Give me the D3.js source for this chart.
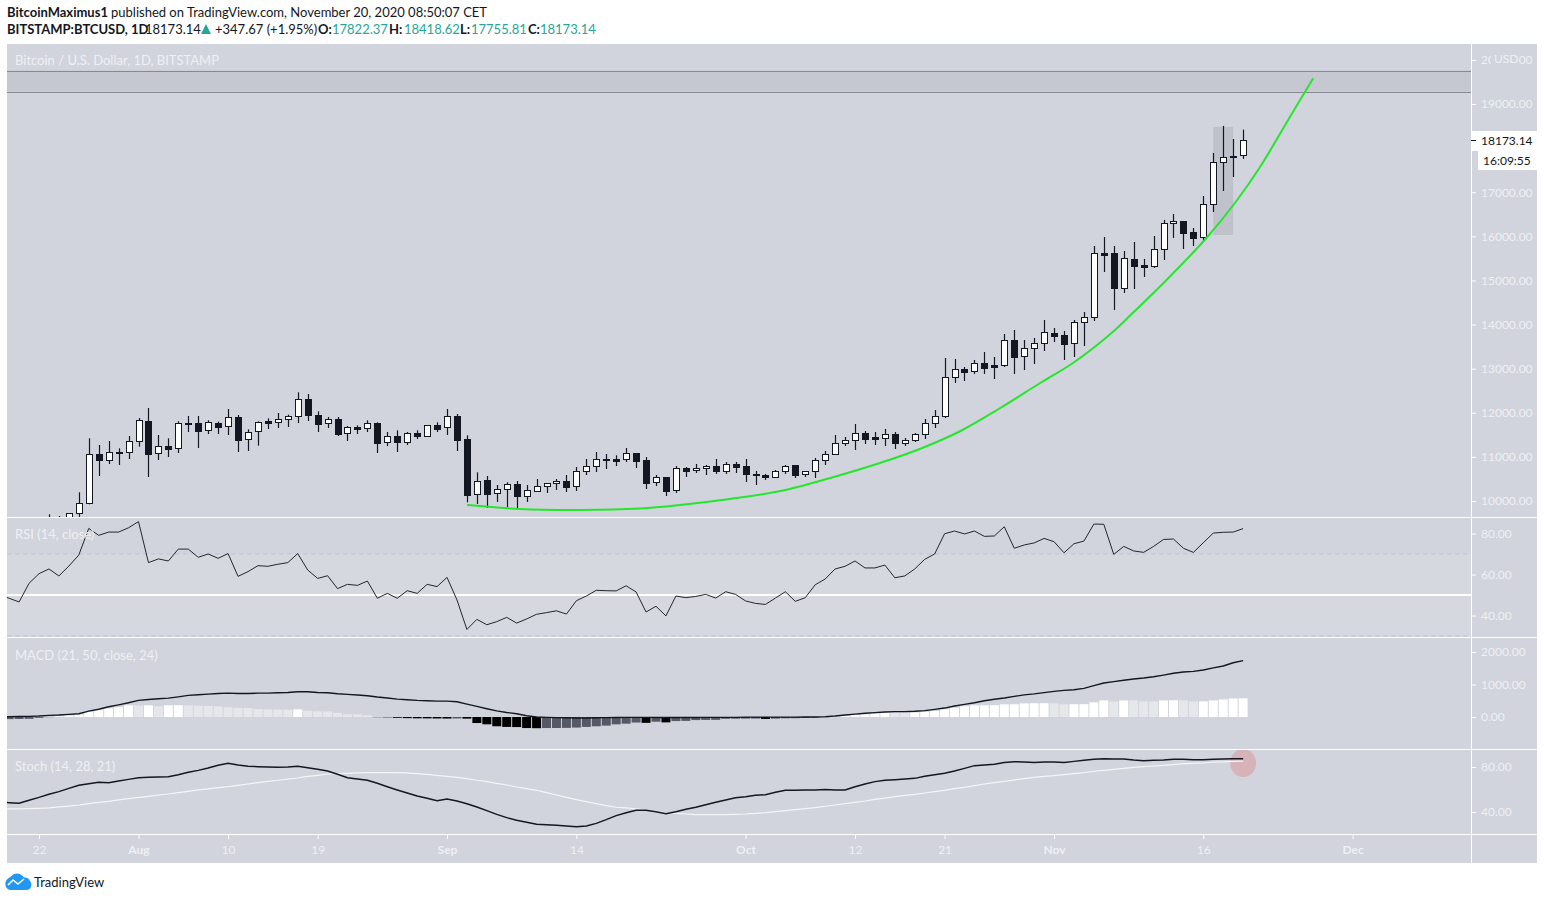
<!DOCTYPE html>
<html>
<head>
<meta charset="utf-8">
<title>BTCUSD 1D</title>
<script src="https://cdn.jsdelivr.net/npm/d3@7/dist/d3.min.js"></script>
<style>
  html, body { margin: 0; padding: 0; background: #fff; }
  svg { display: block; }
  text { font-family: Lato, "Open Sans", sans-serif; }
</style>
</head>
<body>
<script>
// daily candles, first one is 23 Jul 2020, last one 20 Nov 2020
const candleStart = Date.UTC(2020, 6, 23);
const opens = [
  9540,9540,9570,9720,9947,11066,10914,11111,11096,11345,
  11814,11073,11247,11186,11768,11768,11594,11768,11685,11904,
  11390,11572,11806,11776,11851,11912,12312,11950,11753,11859,
  11526,11678,11640,11768,11322,11466,11322,11534,11458,11715,
  11662,11927,11406,10144,10476,10167,10257,10386,10114,10212,
  10325,10393,10454,10325,10665,10779,10953,10953,10937,11089,
  10930,10416,10545,10235,10749,10688,10733,10794,10665,10839,
  10794,10605,10590,10529,10665,10817,10597,10665,10915,11051,
  11300,11368,11542,11451,11413,11519,11315,11368,11504,11754,
  11913,12797,12993,12933,13129,13084,13069,13650,13273,13454,
  13567,13809,13764,13567,14043,14157,15623,15623,14814,15487,
  15351,15313,15698,16288,16348,16099,15970,16718,17670,17791,
  17822.37];
const highs = [
  9698,9660,9720,10197,11421,11270,11360,11194,11474,11882,
  12108,11496,11421,11806,11927,11927,11829,11799,12086,11950,
  11625,11806,11874,11995,11957,12463,12426,12033,11904,11904,
  11700,11715,11829,11783,11564,11602,11564,11602,11715,11783,
  12086,11972,11489,10650,10567,10363,10424,10454,10363,10499,
  10401,10499,10590,10771,10953,11111,11066,11036,11202,11089,
  10998,10590,10545,10794,10771,10839,10817,10953,10885,10885,
  10953,10681,10613,10703,10817,10817,10673,10975,11134,11497,
  11451,11746,11587,11565,11633,11565,11429,11542,11859,12063,
  13242,13220,13038,13197,13378,13265,13786,13877,13650,13696,
  14104,13923,13854,14104,14285,15781,15985,15781,15668,15872,
  15487,16008,16371,16507,16348,16189,16915,17890,18502,18207,
  18418.62];
const lows = [
  9480,9470,9500,9640,9925,10567,10839,10816,10952,11232,
  10544,10930,10998,11088,11564,11202,11519,11519,11496,11111,
  11134,11255,11632,11655,11678,11768,11814,11564,11655,11474,
  11360,11519,11564,11088,11247,11111,11270,11406,11451,11564,
  11496,11134,9970,9932,9842,9978,9865,9834,9978,10205,
  10182,10250,10205,10227,10590,10658,10726,10794,10885,10749,
  10273,10341,10114,10182,10545,10635,10590,10613,10613,10635,
  10431,10363,10477,10522,10613,10522,10545,10522,10817,11051,
  11247,11157,11293,11270,11247,11179,11247,11338,11406,11655,
  11882,12676,12721,12880,12880,12766,13038,12880,12970,13107,
  13401,13605,13197,13265,13514,14081,15192,14331,14716,14807,
  15079,15283,15464,15963,15713,15781,15880,16552,17028,17345,
  17755.81];
const closes = [
  9620,9600,9720,9947,11058,10930,11103,11096,11353,11829,
  11073,11239,11179,11761,11753,11587,11783,11678,11897,11383,
  11557,11783,11768,11851,11919,12305,11957,11746,11851,11519,
  11670,11632,11761,11322,11466,11322,11534,11458,11715,11632,
  11919,11383,10136,10446,10159,10265,10378,10114,10242,10333,
  10401,10446,10318,10673,10786,10945,10937,10907,11081,10907,
  10409,10537,10227,10741,10681,10741,10786,10681,10832,10771,
  10613,10575,10545,10673,10786,10590,10673,10922,11058,11308,
  11376,11534,11406,11413,11512,11315,11376,11512,11761,11920,
  12804,12986,12925,13122,13016,13046,13643,13265,13462,13575,
  13824,13741,13560,14051,14164,15615,15577,14829,15502,15328,
  15305,15706,16295,16340,16076,15963,16726,17678,17791,17825,
  18173.14];

// indicators run from 18 Jul 2020, one value per day
const indicatorStart = Date.UTC(2020, 6, 18);
const rsiValues = [
  50.0,48.4,46.6,55.7,60.4,62.7,59.3,64.1,69.5,82.5,
  79.1,80.7,80.7,82.8,85.8,65.8,67.6,66.6,72.4,72.4,
  68.4,70.0,67.9,70.2,59.1,61.4,64.3,64.0,65.0,65.8,
  70.2,62.2,58.1,59.4,53.1,55.2,54.7,56.8,48.4,50.8,
  48.4,52.1,50.8,55.2,54.1,58.6,47.6,33.2,38.1,35.5,
  37.0,39.1,36.3,38.3,40.6,41.4,42.3,40.7,47.2,49.5,
  52.3,52.1,52.0,54.5,51.5,41.7,44.5,39.8,49.5,48.7,
  49.3,50.3,48.5,51.6,50.3,47.1,45.9,45.4,48.5,51.6,
  46.9,48.7,55.0,57.8,62.7,64.0,66.6,63.2,63.2,64.6,
  58.4,59.3,62.7,67.4,70.0,79.9,81.2,79.8,81.2,78.6,
  78.8,83.3,72.8,74.4,75.4,77.6,76.0,70.6,75.0,76.3,
  84.6,84.5,69.8,73.7,71.5,70.8,73.7,77.1,77.3,72.8,
  70.8,75.5,80.2,80.6,80.7,82.4];
const macdValues = [
  0,10,15,20,30,50,60,80,100,180,
  240,315,375,440,510,540,560,580,620,665,
  685,705,725,735,725,725,735,735,745,755,
  775,775,755,745,715,695,675,655,615,585,
  550,530,510,500,490,490,470,395,325,255,
  190,140,100,40,0,-10,-20,-25,-30,-30,
  -25,-20,-15,-10,-10,-10,-15,-15,-15,-15,
  -15,-10,-10,-10,-10,-5,-5,-5,-5,-5,
  -5,0,0,10,30,60,90,115,135,155,
  165,165,175,195,235,275,340,390,440,500,
  545,585,635,680,710,750,790,820,840,880,
  965,1045,1090,1130,1170,1200,1240,1290,1345,1385,
  1405,1445,1510,1570,1670,1735];
const histValues = [
  -70,-65,-60,-55,-25,-5,20,45,80,170,
  235,265,300,360,355,358,330,360,362,358,
  350,340,330,300,280,275,245,235,230,225,
  235,195,175,170,125,85,80,50,-5,-10,
  -25,-35,-40,-42,-45,-48,-45,-50,-185,-225,
  -285,-305,-310,-340,-345,-340,-338,-335,-325,-305,
  -285,-265,-225,-205,-170,-180,-145,-165,-125,-120,
  -95,-90,-88,-55,-52,-50,-48,-60,-50,-40,
  -38,-30,-20,-10,10,40,60,80,110,140,
  138,135,140,160,185,235,285,330,358,360,
  362,390,392,420,422,424,418,390,392,394,
  450,510,480,510,508,480,478,510,512,508,
  480,482,510,540,570,575];
const stochK = [
  48.5,48.3,47.7,50.4,53.0,55.7,58.1,61.0,63.7,65.2,
  66.4,66.1,67.6,69.0,70.5,70.8,71.1,71.4,73.2,75.3,
  77.0,79.1,81.5,83.3,81.8,80.6,80.3,80.0,79.7,80.0,
  80.6,79.4,77.9,76.4,73.5,70.5,69.3,68.2,65.5,62.5,
  59.6,56.9,54.2,52.2,50.1,51.6,49.8,47.4,44.5,41.2,
  37.9,35.0,32.6,30.8,29.1,28.7,28.2,27.6,27.0,27.6,
  29.9,33.2,36.8,39.4,41.5,41.5,40.3,38.5,40.3,42.4,
  44.2,46.5,48.6,50.7,52.7,53.6,54.8,55.4,57.5,59.3,
  59.4,59.6,59.6,59.9,59.6,59.6,62.5,64.9,67.0,68.2,
  68.7,69.3,69.9,71.7,73.2,74.4,76.4,78.8,81.2,81.8,
  82.4,83.9,84.7,84.4,84.1,84.4,84.4,84.1,85.0,85.9,
  86.8,87.4,87.1,87.1,86.2,85.6,85.9,86.2,86.8,86.8,
  86.5,86.5,86.8,87.1,87.4,87.4];
const stochD = [
  42.7,42.7,42.7,43.0,43.3,43.6,44.5,45.3,46.2,47.4,
  48.6,49.5,50.7,51.9,53.0,53.9,55.1,56.0,57.2,58.4,
  59.6,60.5,61.6,62.5,63.7,64.9,66.1,67.3,68.2,69.3,
  70.2,71.7,72.6,73.8,74.1,74.4,74.7,75.0,75.0,75.0,
  75.0,74.7,74.1,73.5,72.6,71.7,70.8,69.6,68.2,67.0,
  65.5,64.0,62.2,60.7,59.3,57.2,55.1,53.0,51.0,49.2,
  47.4,45.6,44.2,43.6,42.7,41.8,40.9,39.1,38.8,38.2,
  37.6,37.6,37.6,37.6,37.9,38.2,38.8,39.4,40.3,41.2,
  42.1,43.0,43.9,45.1,46.2,47.4,48.6,49.8,51.3,52.4,
  53.6,54.8,55.7,56.9,58.1,59.3,60.7,61.9,63.4,64.9,
  66.1,67.3,68.5,69.6,70.8,71.7,72.3,73.2,74.1,75.0,
  76.2,77.0,77.9,78.8,79.7,80.3,80.9,81.5,82.1,83.0,
  83.3,83.6,84.2,84.5,85.0,85.3];

// green hand drawn arc: days before the last candle and price
const arcDaysAgo = [77.9,76.7,72.7,66.6,60.6,56.6,51.6,46.5,41.5,36.5,32.5,28.4,24.4,20.4,17.1,13.1,11.1,8.0,3.6,0.6,-1.7,-5,-7];
const arcPrices = [9909,9887,9819,9796,9830,9909,10045,10227,10521,10861,11179,11587,12108,12675,13128,13831,14262,14942,15985,16824,17572,18819,19567];
const resistanceBand = [19283, 19759];

const priceTicks = [20000,19000,18000,17000,16000,15000,14000,13000,12000,11000,10000];
const rsiTicks = [80,60,40];
const macdTicks = [2000,1000,0];
const stochTicks = [80,40];
const timeTicks = [
  [Date.UTC(2020,6,22),"22"],[Date.UTC(2020,7,1),"Aug"],[Date.UTC(2020,7,10),"10"],
  [Date.UTC(2020,7,19),"19"],[Date.UTC(2020,8,1),"Sep"],[Date.UTC(2020,8,14),"14"],
  [Date.UTC(2020,9,1),"Oct"],[Date.UTC(2020,9,12),"12"],[Date.UTC(2020,9,21),"21"],
  [Date.UTC(2020,10,1),"Nov"],[Date.UTC(2020,10,16),"16"],[Date.UTC(2020,11,1),"Dec"]
];
const DAY = 86400000;

const bg = "#d1d4dc", ink = "#131722", pale = "#eef0f4", teal = "#26a69a";

// pane layout
const left = 7, axisX = 1471, right = 1537;
const mainTop = 44, mainBottom = 517, rsiBottom = 637, macdBottom = 749, stochBottom = 834, chartBottom = 863;

const svg = d3.select("body").append("svg")
  .attr("width", 1544)
  .attr("height", 900);

const defs = svg.append("defs");
const addClip = (id, top, bottom) => defs.append("clipPath").attr("id", id)
  .append("rect").attr("x", left).attr("y", top).attr("width", axisX - left).attr("height", bottom - top);
addClip("clip-main", mainTop, mainBottom);
addClip("clip-rsi", mainBottom, rsiBottom);
addClip("clip-macd", rsiBottom, macdBottom);
addClip("clip-stoch", macdBottom, stochBottom);

svg.append("rect").attr("x", left).attr("y", mainTop)
  .attr("width", right - left).attr("height", chartBottom - mainTop).attr("fill", bg);

// scales
const x = d3.scaleUtc()
  .domain([Date.UTC(2020,6,22), Date.UTC(2020,11,1)])
  .range([39, 1352.6]);
const yPrice = d3.scaleLinear().domain([10000, 19000]).range([501, 104]);
const yRsi = d3.scaleLinear().domain([40, 80]).range([615.5, 533.5]);
const yMacd = d3.scaleLinear().domain([0, 2000]).range([717, 652]);
const yStoch = d3.scaleLinear().domain([40, 80]).range([812, 767]);

const candleDate = i => candleStart + i * DAY;
const indicatorDate = i => indicatorStart + i * DAY;
const crisp = v => Math.round(v) + 0.5;

// main pane
const main = svg.append("g").attr("clip-path", "url(#clip-main)");

main.append("rect")
  .attr("x", left).attr("width", axisX - left)
  .attr("y", yPrice(resistanceBand[1]))
  .attr("height", yPrice(resistanceBand[0]) - yPrice(resistanceBand[1]))
  .attr("fill", "#c5c8d1");
main.selectAll(".band-edge")
  .data(resistanceBand)
  .join("line")
    .attr("x1", left).attr("x2", axisX)
    .attr("y1", d => crisp(yPrice(d))).attr("y2", d => crisp(yPrice(d)))
    .attr("stroke", "#878a93");

// grey measure box behind the last candles
main.append("rect")
  .attr("x", x(candleDate(117))).attr("width", x(candleDate(119)) - x(candleDate(117)))
  .attr("y", yPrice(18480)).attr("height", yPrice(16030) - yPrice(18480))
  .attr("fill", "#bfc2cb");

const candles = main.selectAll(".candle")
  .data(d3.range(opens.length))
  .join("g")
    .attr("class", "candle");
candles.append("line")
  .attr("x1", i => crisp(x(candleDate(i)))).attr("x2", i => crisp(x(candleDate(i))))
  .attr("y1", i => yPrice(highs[i])).attr("y2", i => yPrice(lows[i]))
  .attr("stroke", ink).attr("stroke-width", 1.2);
candles.append("rect")
  .attr("x", i => Math.round(x(candleDate(i))) - 2.5)
  .attr("width", 6)
  .attr("y", i => Math.round(yPrice(Math.max(opens[i], closes[i]))) + 0.5)
  .attr("height", i => Math.max(1, Math.round(Math.abs(yPrice(opens[i]) - yPrice(closes[i])))))
  .attr("fill", i => closes[i] >= opens[i] ? "#fff" : ink)
  .attr("stroke", ink);

main.append("path")
  .attr("d", d3.line()
    .x((d, i) => x(candleDate(120 - d)))
    .y((d, i) => yPrice(arcPrices[i]))
    .curve(d3.curveCatmullRom.alpha(0.5))(arcDaysAgo))
  .attr("fill", "none")
  .attr("stroke", "#27e52f")
  .attr("stroke-width", 2)
  .attr("stroke-linecap", "round");

// RSI pane
const rsi = svg.append("g").attr("clip-path", "url(#clip-rsi)");
rsi.append("rect")
  .attr("x", left).attr("width", axisX - left)
  .attr("y", yRsi(70)).attr("height", yRsi(30) - yRsi(70))
  .attr("fill", "#fff").attr("fill-opacity", 0.1);
rsi.selectAll(".rsi-level")
  .data([70, 30])
  .join("line")
    .attr("x1", left).attr("x2", axisX)
    .attr("y1", d => yRsi(d)).attr("y2", d => yRsi(d))
    .attr("stroke", "#c2c3c5").attr("stroke-dasharray", "4 4");
rsi.append("line")
  .attr("x1", left).attr("x2", axisX)
  .attr("y1", yRsi(50)).attr("y2", yRsi(50))
  .attr("stroke", "#fff").attr("stroke-width", 2);
rsi.append("path")
  .attr("d", d3.line().x((d, i) => x(indicatorDate(i))).y(d => yRsi(d))(rsiValues))
  .attr("fill", "none").attr("stroke", "#23262e").attr("stroke-width", 1);

// MACD pane
const macd = svg.append("g").attr("clip-path", "url(#clip-macd)");
macd.selectAll("rect")
  .data(histValues)
  .join("rect")
    .attr("x", (d, i) => x(indicatorDate(i)) - 4.5)
    .attr("width", 9)
    .attr("y", d => Math.min(yMacd(d), yMacd(0)))
    .attr("height", d => Math.abs(yMacd(d) - yMacd(0)))
    .attr("fill", (d, i) => {
      const prev = i ? histValues[i - 1] : d;
      if (d >= 0) return d >= prev ? "#ffffff" : "#e6e7eb";
      return d < prev ? "#000000" : "#555865";
    });
macd.append("path")
  .attr("d", d3.line().x((d, i) => x(indicatorDate(i))).y(d => yMacd(d))(macdValues))
  .attr("fill", "none").attr("stroke", ink).attr("stroke-width", 1.4);

// Stoch pane
const stoch = svg.append("g").attr("clip-path", "url(#clip-stoch)");
stoch.append("ellipse")
  .attr("cx", x(candleDate(120))).attr("cy", yStoch(83.5))
  .attr("rx", 13).attr("ry", 14)
  .attr("fill", "#d6b2b9");
stoch.append("path")
  .attr("d", d3.line().x((d, i) => x(indicatorDate(i))).y(d => yStoch(d))(stochD))
  .attr("fill", "none").attr("stroke", "#f4f5f7").attr("stroke-width", 1.2);
stoch.append("path")
  .attr("d", d3.line().x((d, i) => x(indicatorDate(i))).y(d => yStoch(d))(stochK))
  .attr("fill", "none").attr("stroke", ink).attr("stroke-width", 1.5);

// separators
svg.selectAll(".separator")
  .data([mainBottom, rsiBottom, macdBottom, stochBottom])
  .join("line")
    .attr("x1", left).attr("x2", right)
    .attr("y1", d => d + 0.5).attr("y2", d => d + 0.5)
    .attr("stroke", "#fff");
svg.append("line")
  .attr("x1", axisX + 0.5).attr("x2", axisX + 0.5)
  .attr("y1", mainTop).attr("y2", chartBottom)
  .attr("stroke", "#fff");

// axes
const styleAxis = g => {
  g.select(".domain").remove();
  g.selectAll("line").attr("stroke", "#fff");
  g.selectAll("text")
    .attr("fill", pale)
    .style("font-size", "12px")
    .style("font-family", "Lato, sans-serif");
};
const addRightAxis = (scale, ticks, fmt) => svg.append("g")
  .attr("transform", `translate(${axisX},0)`)
  .call(d3.axisRight(scale).tickValues(ticks).tickSize(5).tickPadding(5).tickFormat(fmt))
  .call(styleAxis);
addRightAxis(yPrice, priceTicks.filter(d => d !== 18000), d3.format(".2f"));
addRightAxis(yRsi, rsiTicks, d3.format(".2f"));
addRightAxis(yMacd, macdTicks, d3.format(".2f"));
addRightAxis(yStoch, stochTicks, d3.format(".2f"));

svg.append("g")
  .attr("transform", `translate(0,${stochBottom})`)
  .call(d3.axisBottom(x)
    .tickValues(timeTicks.map(d => d[0]))
    .tickSize(5).tickPadding(6)
    .tickFormat((d, i) => timeTicks[i][1]))
  .call(styleAxis)
  .call(g => g.selectAll("text")
    .style("font-weight", (d, i) => isNaN(+timeTicks[i][1]) ? "700" : "400"));

// USD tag sits on top of the 20000 label
svg.append("rect").attr("x", 1491).attr("y", 50).attr("width", 27).attr("height", 20).attr("fill", bg);
svg.append("text").attr("x", 1494).attr("y", 63).attr("fill", pale)
  .style("font-size", "12px").text("USD");

// last price and countdown tags
svg.append("rect").attr("x", 1472).attr("y", 131).attr("width", 65).attr("height", 20).attr("fill", "#fff");
svg.append("line")
  .attr("x1", axisX).attr("x2", axisX + 5)
  .attr("y1", crisp(yPrice(closes[closes.length - 1]))).attr("y2", crisp(yPrice(closes[closes.length - 1])))
  .attr("stroke", ink);
svg.append("text").attr("x", 1481).attr("y", 145).attr("fill", ink)
  .style("font-size", "12px").text(d3.format(".2f")(closes[closes.length - 1]));
svg.append("rect").attr("x", 1478).attr("y", 151).attr("width", 59).attr("height", 19).attr("fill", "#fff");
svg.append("text").attr("x", 1483).attr("y", 165).attr("fill", ink)
  .style("font-size", "12px").text("16:09:55");

// pane titles
const paneTitle = (label, y) => svg.append("text")
  .attr("x", 15).attr("y", y).attr("fill", pale)
  .style("font-size", "13px").text(label);
paneTitle("Bitcoin / U.S. Dollar, 1D, BITSTAMP", 65);
paneTitle("RSI (14, close)", 539);
paneTitle("MACD (21, 50, close, 24)", 660);
paneTitle("Stoch (14, 28, 21)", 771);

// header lines
const header = (str, xPos, y, color, weight) => svg.append("text")
  .attr("x", xPos).attr("y", y).attr("fill", color)
  .style("font-size", "13px").style("font-weight", weight || 400).text(str);
header("BitcoinMaximus1", 7, 17, ink, 700);
header("published on TradingView.com, November 20, 2020 08:50:07 CET", 111, 17, ink);
header("BITSTAMP:BTCUSD, 1D", 7, 34, ink, 700);
header("18173.14", 145, 34, ink);
svg.append("path").attr("d", "M201,34 L206,24 L211,34 Z").attr("fill", teal);
header("+347.67 (+1.95%)", 215, 34, ink);
header("O:", 318, 34, ink, 700);
header("17822.37", 332, 34, teal);
header("H:", 389, 34, ink, 700);
header("18418.62", 404, 34, teal);
header("L:", 460, 34, ink, 700);
header("17755.81", 471, 34, teal);
header("C:", 528, 34, ink, 700);
header("18173.14", 540, 34, teal);

// TradingView mark
svg.append("path")
  .attr("d", "M11,890 H26 C31,890 33,885 30,881 C29,878 26,877 24,877.5 C21,873 15,872 12,875.5 C10,877.5 9,877.5 7,879.5 C4,882 5,890 11,890 Z")
  .attr("fill", "#2196f3");
svg.append("path")
  .attr("d", "M8,885 L13,880 L18,884 L24,879")
  .attr("fill", "none").attr("stroke", "#fff").attr("stroke-width", 1.6);
svg.append("text").attr("x", 34).attr("y", 887).attr("fill", ink)
  .style("font-size", "13px").text("TradingView");
</script>
</body>
</html>
